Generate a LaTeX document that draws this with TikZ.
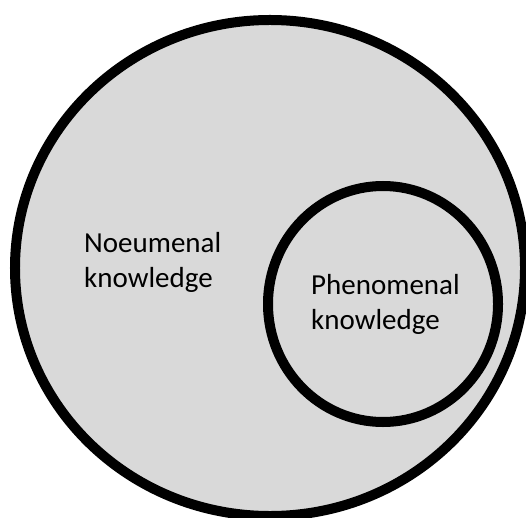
\documentclass[tikz,border=0pt]{standalone}
\usepackage{fontspec}
\setmainfont{Carlito}
\usetikzlibrary{shapes.geometric}
\definecolor{setgray}{HTML}{D9D9D9}

\begin{document}
\begin{tikzpicture}[x=1bp,y=-1bp,line join=bevel,
  setnode/.style={ellipse,draw=black,line width=10bp,fill=setgray,inner sep=0pt},
  labelnode/.style={align=left,inner sep=0pt,font=\fontsize{29bp}{35bp}\selectfont}]
%%
\useasboundingbox [fill=white] (0,0) rectangle (526,518);
\node (node_outer) at (270,268) [setnode,minimum width=510bp,minimum height=496bp] {};
  \node (node_inner) at (383,304) [setnode,minimum width=230bp,minimum height=236bp] {};
  \node (node_noumenal) at (84,287) [labelnode,anchor=base west] {Noeumenal\\knowledge};
  \node (node_phenomenal) at (311,329) [labelnode,anchor=base west] {Phenomenal\\knowledge};
%
\end{tikzpicture}
\end{document}
